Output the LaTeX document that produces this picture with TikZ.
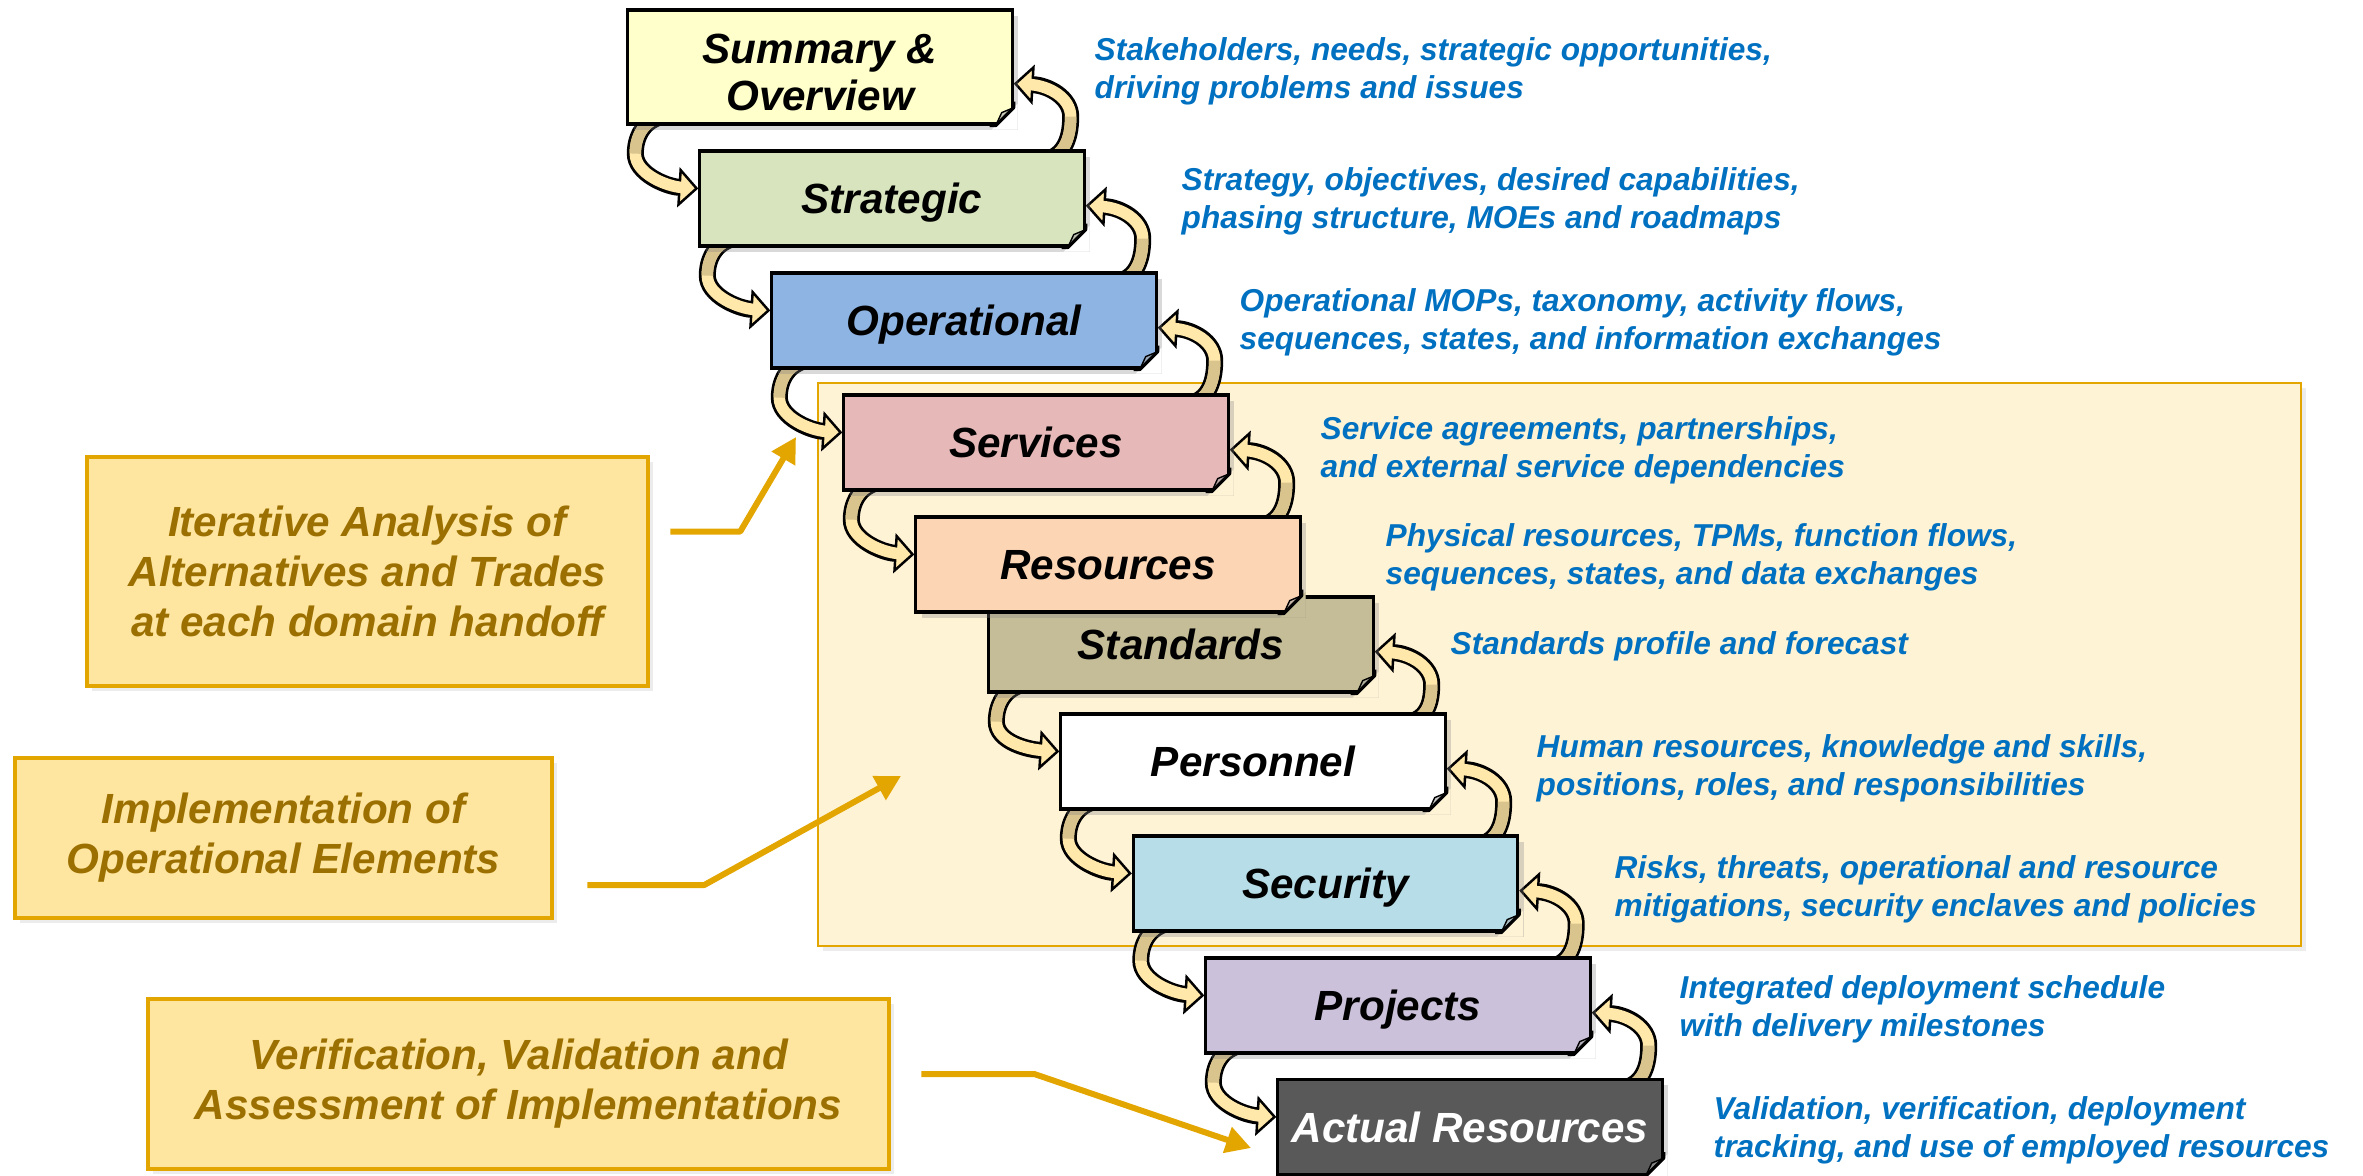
\documentclass[tikz,border=0pt]{standalone}
\usepackage{fontspec}
\setmainfont{Liberation Sans}
\usetikzlibrary{arrows.meta,shadows}
\definecolor{sumc}{HTML}{FFFFCC}
\definecolor{stratc}{HTML}{D7E4BD}
\definecolor{operc}{HTML}{8EB4E3}
\definecolor{servc}{HTML}{E6B9B8}
\definecolor{resc}{HTML}{FCD5B5}
\definecolor{standc}{HTML}{C4BD97}
\definecolor{persc}{HTML}{FFFFFF}
\definecolor{secuc}{HTML}{B7DEE8}
\definecolor{projc}{HTML}{CCC1DA}
\definecolor{actc}{HTML}{595959}
\definecolor{desctext}{HTML}{0070C0}
\definecolor{panelc}{HTML}{FFF3D6}
\definecolor{goldline}{HTML}{E3A600}
\definecolor{goldfill}{HTML}{FFE6A0}
\definecolor{goldtext}{HTML}{9C7000}
\definecolor{ribbonc}{HTML}{FFE8AA}
\definecolor{ribbond}{HTML}{D9C48E}
\pgfdeclarelayer{back}
\pgfdeclarelayer{mid}
\pgfsetlayers{back,mid,main}

\begin{document}
\begin{tikzpicture}[x=0.01cm,y=-0.01cm]
\tikzset{stage/.style = {draw, line width=.9pt, fill=#1, minimum width=3.84cm, minimum height=.95cm, inner sep=0, align=center,
  text depth=0pt,
  font=\bfseries\itshape\fontsize{12}{13.5}\selectfont, drop shadow={shadow xshift=.6mm, shadow yshift=-.6mm, opacity=.3}}}
\tikzset{desc/.style = {anchor=west, align=left, inner sep=0, yshift=-1pt, text=desctext, font=\bfseries\itshape\fontsize{9}{10.8}\selectfont}}
\tikzset{callout/.style = {draw=goldline, line width=1.2pt, fill=goldfill, text=goldtext, align=center, inner sep=0,
  font=\bfseries\itshape\fontsize{12}{14.2}\selectfont, drop shadow={shadow xshift=.5mm, shadow yshift=-.5mm, opacity=.15}}}
\tikzset{pointer/.style = {draw=goldline, line width=.6mm, line join=round, -{Triangle[length=2.5mm,width=2.6mm]}}}
\tikzset{ribbon/.style = {draw=black, line width=1.7mm, -{Triangle[length=2mm,width=4mm,fill=ribbonc,line width=.7pt]},
  postaction={draw=ribbonc, line width=1.15mm, -, shorten >=1.6mm}}}
\tikzset{curll/.style = {ribbon, to path={([shift={(50,-11)}]\tikztostart) .. controls +(-30,0) and +(0,-20) .. ([shift={(9,28)}]\tikztostart)
  .. controls +(0,20) and +(-32,-2) .. ([yshift=1mm]\tikztotarget)}}}
\tikzset{backl/.style = {draw=ribbond, line width=1.15mm, to path={([shift={(50,-11)}]\tikztostart) .. controls +(-30,0) and +(0,-20) .. ([shift={(9,28)}]\tikztostart)}}}
\tikzset{curlr/.style = {ribbon, to path={([shift={(-45,11)}]\tikztostart) .. controls +(22,-2) and +(0,24) .. ([shift={(57,-9)}]\tikztotarget)
  .. controls +(0,-19) and +(35,2) .. ([yshift=4.2mm]\tikztotarget)}}}
\tikzset{backr/.style = {draw=ribbond, line width=1.15mm, to path={([shift={(-45,11)}]\tikztostart) .. controls +(22,-2) and +(0,24) .. ([shift={(57,-9)}]\tikztotarget)}}}
\tikzset{pics/fold/.style = {code={
  \fill[#1] (4,4) -- (4,-22) -- (-22,4) -- cycle;
  \fill[black!35, fill opacity=.6] (0,-18) -- (-18,0) -- (-12,-13) -- cycle;
  \draw[line width=.9pt, line join=round] (0,-24) -- (0,-18) -- (-18,0) -- (-24,0);
  \draw[line width=.4pt] (0,-18) -- (-12,-13) -- (-18,0);
}}}
\useasboundingbox (0,0) rectangle (2363,1175);

% shaded area
\begin{pgfonlayer}{back}
\draw[draw=goldline, line width=.25mm, fill=panelc, drop shadow={shadow xshift=.5mm, shadow yshift=-.5mm, opacity=.15}] (818,383) rectangle (2301,946);
\end{pgfonlayer}

% domains
\node[stage=sumc, minimum height=1.14cm, text height=25pt] (sum) at (820,67) {Summary \&\\Overview};
\pic at (sum.south east) {fold=white};
\node[stage=stratc] (strat) at (892,198.5) {Strategic};
\pic at (strat.south east) {fold=white};
\node[stage=operc] (oper) at (964,320.5) {Operational};
\pic at (oper.south east) {fold=white};
\node[stage=servc] (serv) at (1036,442.5) {Services};
\pic at (serv.south east) {fold=panelc};
\node[stage=standc] (stand) at (1181,644.5) {Standards};
\pic at (stand.south east) {fold=panelc};
\node[stage=resc] (res) at (1108,564.5) {Resources};
\pic at (res.south east) {fold=standc};
\node[stage=persc] (pers) at (1253,761.5) {Personnel};
\pic at (pers.south east) {fold=panelc};
\node[stage=secuc] (secu) at (1325.5,883.5) {Security};
\pic at (secu.south east) {fold=panelc};
\node[stage=projc] (proj) at (1398,1005.5) {Projects};
\pic at (proj.south east) {fold=white};
\node[stage=actc, text=white] (act) at (1470,1127) {Actual Resources};
\pic at (act.south east) {fold=white};

% hand-offs
\begin{pgfonlayer}{mid}
\path (sum.south west) edge[curll] (strat.west) edge[backl] (strat.west);
\path (strat.north east) edge[curlr] (sum.south east) edge[backr] (sum.south east);
\path (strat.south west) edge[curll] (oper.west) edge[backl] (oper.west);
\path (oper.north east) edge[curlr] (strat.south east) edge[backr] (strat.south east);
\path (oper.south west) edge[curll] (serv.west) edge[backl] (serv.west);
\path (serv.north east) edge[curlr] (oper.south east) edge[backr] (oper.south east);
\path (serv.south west) edge[curll] (res.west) edge[backl] (res.west);
\path (res.north east) edge[curlr] (serv.south east) edge[backr] (serv.south east);
\path (stand.south west) edge[curll] (pers.west) edge[backl] (pers.west);
\path (pers.north east) edge[curlr] (stand.south east) edge[backr] (stand.south east);
\path (pers.south west) edge[curll] (secu.west) edge[backl] (secu.west);
\path (secu.north east) edge[curlr] (pers.south east) edge[backr] (pers.south east);
\path (secu.south west) edge[curll] (proj.west) edge[backl] (proj.west);
\path (proj.north east) edge[curlr] (secu.south east) edge[backr] (secu.south east);
\path (proj.south west) edge[curll] (act.west) edge[backl] (act.west);
\path (act.north east) edge[curlr] (proj.south east) edge[backr] (proj.south east);
\end{pgfonlayer}

% descriptions
\node[desc] (dsum) at (1094,67.5) {Stakeholders, needs, strategic opportunities,\\driving problems and issues};
\node[desc] (dstrat) at (1181,197.5) {Strategy, objectives, desired capabilities,\\phasing structure, MOEs and roadmaps};
\node[desc] (doper) at (1239,319) {Operational MOPs, taxonomy, activity flows,\\sequences, states, and information exchanges};
\node[desc] (dserv) at (1320,447) {Service agreements, partnerships,\\and external service dependencies};
\node[desc] (dres) at (1385,554) {Physical resources, TPMs, function flows,\\sequences, states, and data exchanges};
\node[desc] (dstand) at (1450,643) {Standards profile and forecast};
\node[desc] (dpers) at (1536,765) {Human resources, knowledge and skills,\\positions, roles, and responsibilities};
\node[desc] (dsecu) at (1614,885.5) {Risks, threats, operational and resource\\mitigations, security enclaves and policies};
\node[desc] (dproj) at (1679,1006) {Integrated deployment schedule\\with delivery milestones};
\node[desc] (dact) at (1713,1126.5) {Validation, verification, deployment\\tracking, and use of employed resources};

% callouts
\node[callout, minimum width=5.61cm, minimum height=2.29cm] (callA) at (367.5,571.5) {Iterative Analysis of\\Alternatives and Trades\\at each domain handoff};
\node[callout, minimum width=5.37cm, minimum height=1.6cm] (callB) at (283.5,838) {Implementation of\\Operational Elements};
\node[callout, minimum width=7.41cm, minimum height=1.7cm] (callC) at (518.5,1084) {Verification, Validation and\\Assessment of Implementations};
\coordinate (tipA) at (796,437);
\coordinate (tipB) at (901,776);
\coordinate (tipC) at (1251,1148);
\draw[pointer] ([shift={(20,-40)}]callA.east) -- ++(70,0) -- (tipA);
\draw[pointer] ([shift={(33,47)}]callB.east) -- ++(117,0) -- (tipB);
\draw[pointer] ([shift={(30,-10)}]callC.east) -- ++(113,0) -- (tipC);
\end{tikzpicture}
\end{document}
